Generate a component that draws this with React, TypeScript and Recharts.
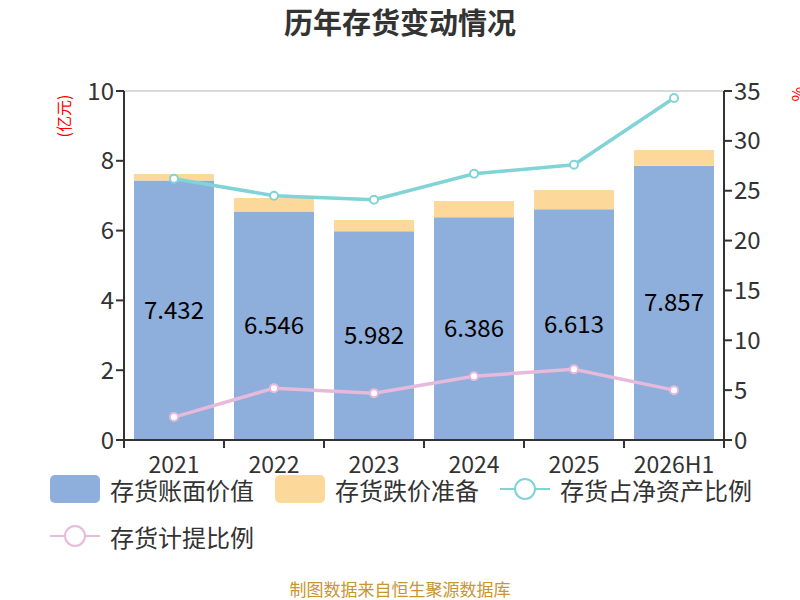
import { ComposedChart, Bar, Line, XAxis, YAxis, CartesianGrid, LabelList } from "recharts";

const years = ["2021", "2022", "2023", "2024", "2025", "2026H1"];
const bookValue = [7.432, 6.546, 5.982, 6.386, 6.613, 7.857];
const impairment = [0.19, 0.39, 0.32, 0.46, 0.55, 0.45];
const netAssetRatio = [26.2, 24.5, 24.1, 26.7, 27.6, 34.3];
const provisionRatio = [2.3, 5.2, 4.7, 6.4, 7.1, 5.0];

const leftTicks = [0, 2, 4, 6, 8, 10];
const rightTicks = [0, 5, 10, 15, 20, 25, 30, 35];

const data = years.map((year, i) => ({
  year,
  book: bookValue[i],
  reserve: impairment[i],
  netRatio: netAssetRatio[i],
  provRatio: provisionRatio[i],
}));

const FONT = "'Noto Sans CJK SC', 'Noto Sans', sans-serif";
const BLUE = "#8eaedb";
const ORANGE = "#fdd89b";
const CYAN = "#82d3d5";
const PINK = "#e7b9da";

const XTick = ({ x, y, payload, index }: any) => {
  const half = 50;
  return (
    <g>
      <line x1={x - half} y1={y - 8} x2={x - half} y2={y} stroke="#333" strokeWidth={2} />
      {index === years.length - 1 && (
        <line x1={x + half} y1={y - 8} x2={x + half} y2={y} stroke="#333" strokeWidth={2} />
      )}
      <text x={x} y={y + 25} textAnchor="middle" fill="#333" fontSize={23} fontFamily={FONT}>
        {payload.value}
      </text>
    </g>
  );
};

function LegendItem({ kind, color, label }: { kind: "rect" | "line"; color: string; label: string }) {
  return (
    <div style={{ display: "flex", alignItems: "center", marginRight: 21, height: 28 }}>
      {kind === "rect" ? (
        <div style={{ width: 50, height: 28, borderRadius: 5, background: color }} />
      ) : (
        <svg width={50} height={28}>
          <line x1={0} y1={14} x2={50} y2={14} stroke={color} strokeWidth={2} />
          <circle cx={25} cy={14} r={10} fill="#fff" stroke={color} strokeWidth={2} />
        </svg>
      )}
      <span style={{ marginLeft: 10, fontSize: 24, color: "#333", whiteSpace: "nowrap" }}>{label}</span>
    </div>
  );
}

export default function App() {
  return (
    <div style={{ position: "absolute", left: 0, top: 0, width: 800, height: 600, background: "#fff", fontFamily: FONT, overflow: "hidden" }}>
      <div style={{ position: "absolute", top: 0, width: 800, textAlign: "center", fontSize: 29, fontWeight: 700, color: "#333" }}>
        历年存货变动情况
      </div>
      <div style={{ position: "absolute", left: 38, top: 104, width: 50, textAlign: "center", transform: "rotate(-90deg)", color: "#f00", fontSize: 16, whiteSpace: "nowrap" }}>
        (亿元)
      </div>
      <div style={{ position: "absolute", left: 790, top: 82, transform: "rotate(-90deg)", color: "#f00", fontSize: 16 }}>
        %
      </div>
      <ComposedChart
        width={800}
        height={600}
        data={data}
        margin={{ top: 91, right: 16, bottom: 130, left: 64 }}
        barCategoryGap="10%"
      >
        <CartesianGrid vertical={false} stroke="#ccc" strokeWidth={1.5} />
        <XAxis
          dataKey="year"
          tick={<XTick />}
          tickLine={false}
          axisLine={{ stroke: "#333", strokeWidth: 2 }}
          interval={0}
          height={30}
        />
        <YAxis
          yAxisId="left"
          domain={[0, 10]}
          ticks={leftTicks}
          width={60}
          axisLine={{ stroke: "#333", strokeWidth: 2 }}
          tickLine={{ stroke: "#333", strokeWidth: 2 }}
          tickSize={8}
          tick={{ fill: "#333", fontSize: 24, fontFamily: FONT }}
        />
        <YAxis
          yAxisId="right"
          orientation="right"
          domain={[0, 35]}
          ticks={rightTicks}
          width={60}
          axisLine={{ stroke: "#333", strokeWidth: 2 }}
          tickLine={{ stroke: "#333", strokeWidth: 2 }}
          tickSize={8}
          tick={{ fill: "#333", fontSize: 24, fontFamily: FONT }}
        />
        <Bar yAxisId="left" dataKey="book" stackId="s" fill={BLUE} isAnimationActive={false}>
          <LabelList dataKey="book" position="center" fill="#000" fontSize={24} fontFamily={FONT} formatter={(v: any) => Number(v).toFixed(3)} />
        </Bar>
        <Bar yAxisId="left" dataKey="reserve" stackId="s" fill={ORANGE} isAnimationActive={false} />
        <Line
          yAxisId="right"
          dataKey="netRatio"
          stroke={CYAN}
          strokeWidth={3.5}
          dot={{ r: 4, fill: "#fff", stroke: CYAN, strokeWidth: 2 }}
          isAnimationActive={false}
        />
        <Line
          yAxisId="right"
          dataKey="provRatio"
          stroke={PINK}
          strokeWidth={3.5}
          dot={{ r: 4, fill: "#fff", stroke: PINK, strokeWidth: 2 }}
          isAnimationActive={false}
        />
      </ComposedChart>
      <div style={{ position: "absolute", left: 50, top: 475, width: 740, display: "flex", flexWrap: "wrap", rowGap: 19 }}>
        <LegendItem kind="rect" color={BLUE} label="存货账面价值" />
        <LegendItem kind="rect" color={ORANGE} label="存货跌价准备" />
        <LegendItem kind="line" color={CYAN} label="存货占净资产比例" />
        <LegendItem kind="line" color={PINK} label="存货计提比例" />
      </div>
      <div style={{ position: "absolute", top: 576, width: 800, textAlign: "center", fontSize: 17, color: "#c8962c" }}>
        制图数据来自恒生聚源数据库
      </div>
    </div>
  );
}
